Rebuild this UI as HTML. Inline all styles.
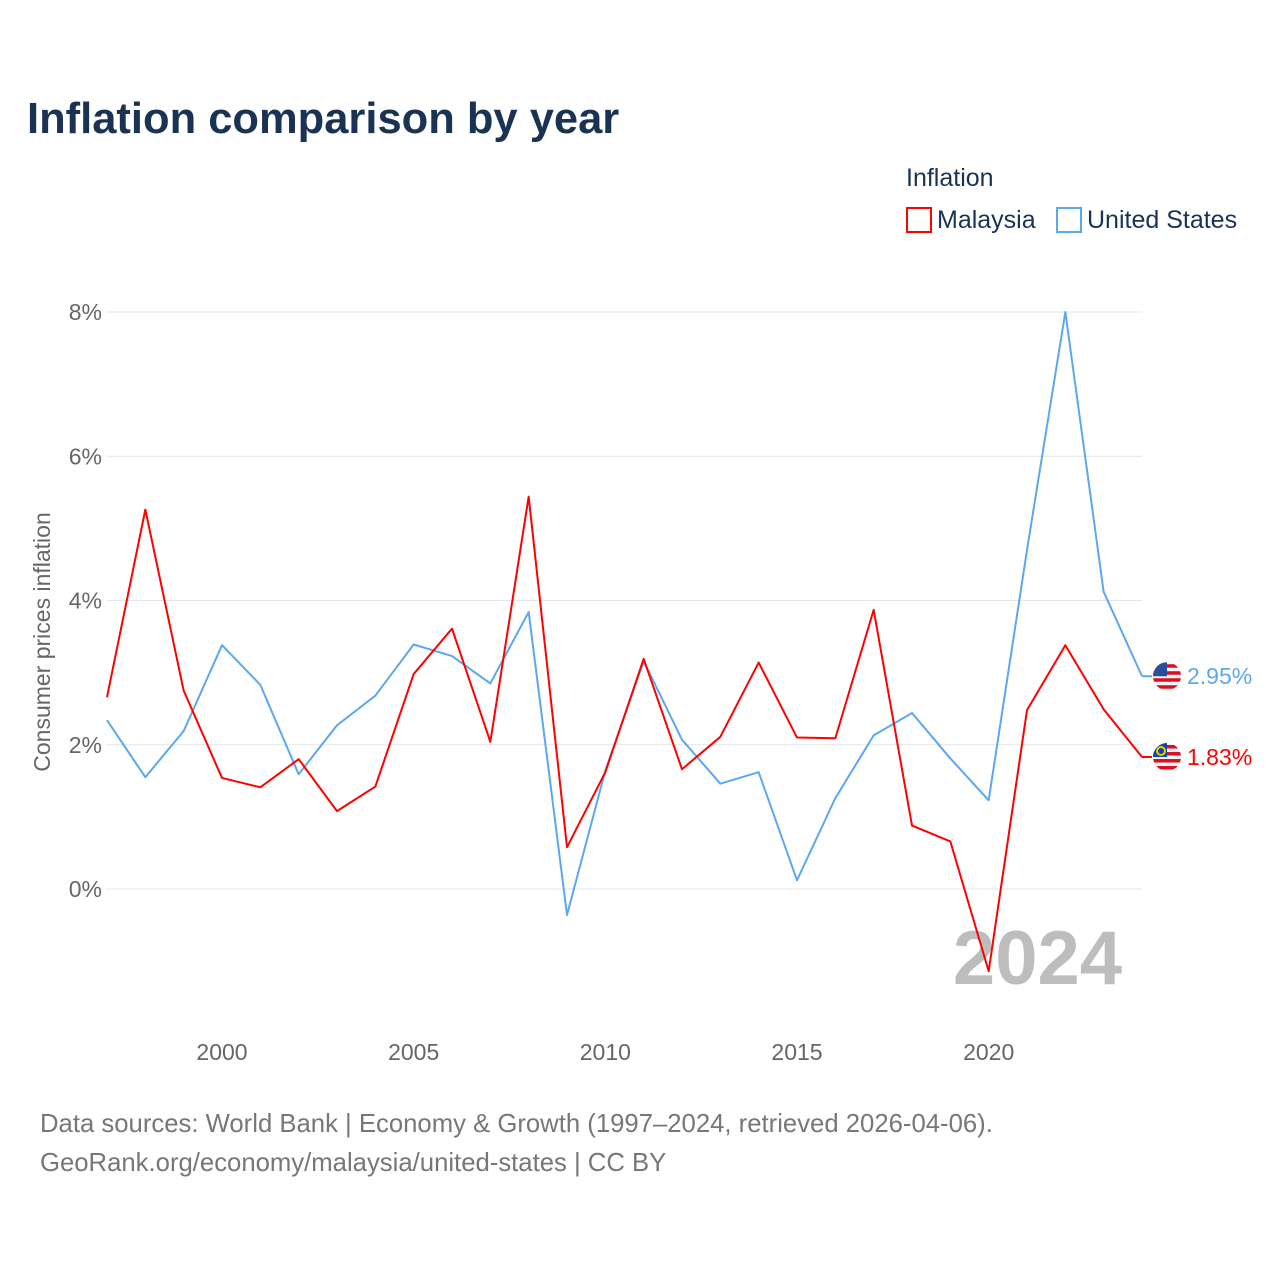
<!DOCTYPE html>
<html><head><meta charset="utf-8"><style>
body{margin:0;background:#fff;font-family:"Liberation Sans",sans-serif;}
svg text{font-family:"Liberation Sans",sans-serif;}
</style></head><body>
<svg width="1280" height="1280" viewBox="0 0 1280 1280">
<text x="27" y="133" font-size="43.5" font-weight="bold" fill="#1a3354">Inflation comparison by year</text>
<g>
<text x="906" y="186" font-size="25" fill="#1a3354">Inflation</text>
<g><rect x="907" y="208" width="24" height="24" fill="none" stroke="#ff0000" stroke-width="2"/><text x="937" y="228" font-size="25" fill="#1a3354">Malaysia</text></g>
<g><rect x="1057" y="208" width="24" height="24" fill="none" stroke="#5ba8ee" stroke-width="2"/><text x="1087" y="228" font-size="25" fill="#1a3354">United States</text></g>
</g>
<g id="grid"></g>
<g id="yticks"></g>
<g id="xticks"></g>
<text transform="translate(50,642) rotate(-90)" text-anchor="middle" font-size="23" fill="#666">Consumer prices inflation</text>
<text x="1122" y="984" text-anchor="end" font-size="76" font-weight="bold" fill="#bdbdbd">2024</text>
<defs id="defs"></defs>
<g id="series"></g>
<text x="40" y="1132" font-size="25.7" fill="#777">Data sources: World Bank | Economy &amp; Growth (1997–2024, retrieved 2026-04-06).</text>
<text x="40" y="1171" font-size="25.7" fill="#777">GeoRank.org/economy/malaysia/united-states | CC BY</text>
</svg>
<script>
const years=[1997,1998,1999,2000,2001,2002,2003,2004,2005,2006,2007,2008,2009,2010,2011,2012,2013,2014,2015,2016,2017,2018,2019,2020,2021,2022,2023,2024];
const malaysia=[2.66,5.26,2.75,1.54,1.41,1.80,1.08,1.42,2.98,3.61,2.04,5.44,0.58,1.62,3.19,1.66,2.11,3.14,2.10,2.09,3.87,0.88,0.66,-1.14,2.48,3.38,2.49,1.83];
const unitedStates=[2.34,1.55,2.19,3.38,2.83,1.59,2.27,2.68,3.39,3.23,2.85,3.84,-0.36,1.64,3.16,2.07,1.46,1.62,0.12,1.26,2.13,2.44,1.81,1.23,4.70,8.00,4.12,2.95];
const yTicks=[0,2,4,6,8];
const xTicks=[2000,2005,2010,2015,2020];
const NS="http://www.w3.org/2000/svg";
const x=v=>107+(v-1997)*(1142-107)/27;
const y=v=>889-v*(889-312)/8;
function mk(t,a,p){const e=document.createElementNS(NS,t);for(const k in a)e.setAttribute(k,a[k]);p.appendChild(e);return e;}
const grid=document.getElementById('grid'),yt=document.getElementById('yticks'),xt=document.getElementById('xticks'),ser=document.getElementById('series'),defs=document.getElementById('defs');
yTicks.forEach(v=>{
 const l=mk('line',{x1:107,x2:1142,y1:y(v),y2:y(v),stroke:'#e6e6e6','stroke-width':1},grid);
 
 
 const t=mk('text',{x:102,y:y(v)+8,'text-anchor':'end','font-size':23,fill:'#666'},yt);t.textContent=v+'%';
 
 
});
xTicks.forEach(v=>{
 const t=mk('text',{x:x(v),y:1060,'text-anchor':'middle','font-size':23,fill:'#666'},xt);t.textContent=v;
 
 
});
let cid=0;
function line(vals,col,name,isMy){
 const p=mk('polyline',{points:vals.map((v,i)=>x(years[i])+','+y(v)).join(' '),fill:'none',stroke:col,'stroke-width':2,'stroke-linejoin':'round'},ser);
 
 
 const last=vals[vals.length-1],yy=y(last);
 const g=mk('g',{},ser);
 
 
 mk('line',{x1:1142,x2:1152,y1:yy,y2:yy,stroke:col,'stroke-width':2},g);
 const cx=1167,id='fc'+(cid++);
 const cp=mk('clipPath',{id:id},defs);mk('circle',{cx:cx,cy:yy,r:14},cp);
 const fg=mk('g',{'clip-path':'url(#'+id+')'},g);
 mk('rect',{x:cx-14,y:yy-14,width:28,height:28,fill:'#f2f2f2'},fg);
 for(let k=0;k<4;k++)mk('rect',{x:cx-14,y:yy-12+k*7,width:28,height:3.5,fill:'#d91023'},fg);
 mk('rect',{x:cx-14,y:yy-14,width:14,height:14,fill:isMy?'#0b47a5':'#2a4d9c'},fg);
 if(isMy)mk('circle',{cx:cx-6,cy:yy-6,r:4,fill:'none',stroke:'#f7c600','stroke-width':2},fg);
}
function lbl(vals,col){
 const last=vals[vals.length-1];
 const t=mk('text',{x:1187,y:y(last)+8,'font-size':23,fill:col},ser);t.textContent=last.toFixed(2)+'%';
 
 
}
line(unitedStates,'#5ba8ee','united-states-line',false);
line(malaysia,'#ff0000','malaysia-line',true);
lbl(unitedStates,'#5ba8ee');lbl(malaysia,'#ff0000');
</script>
</body></html>
